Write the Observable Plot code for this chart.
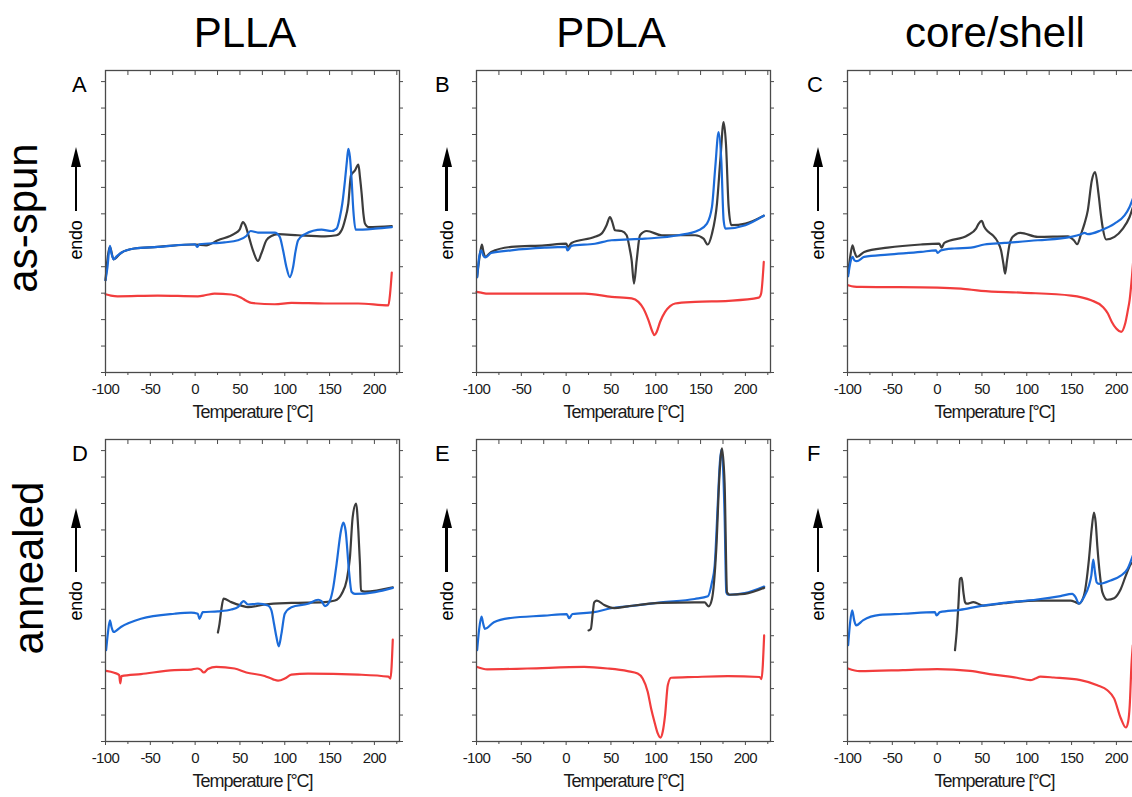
<!DOCTYPE html>
<html>
<head>
<meta charset="utf-8">
<script src="https://cdn.jsdelivr.net/npm/d3@7"></script>
<script src="https://cdn.jsdelivr.net/npm/@observablehq/plot@0.6"></script>
<style>
  html, body { margin: 0; padding: 0; background: #fff; }
  #page { position: relative; width: 1132px; height: 797px; overflow: hidden; background: #fff;
          font-family: "Liberation Sans", Arial, sans-serif; color: #000; }
  .panel { position: absolute; }
  .panel svg { max-width: none !important; }
  .panel svg text { letter-spacing: -0.6px; }
  .panel svg text.xlab { letter-spacing: -1px; }
  .title { position: absolute; font-size: 42px; line-height: 42px; white-space: nowrap; transform: translateX(-50%); }
  .rowtitle { position: absolute; font-size: 42px; line-height: 42px; white-space: nowrap;
              transform: translate(-50%, -50%) rotate(-90deg); }
  .letter { position: absolute; font-size: 22px; line-height: 22px; white-space: nowrap; }
  .endo { position: absolute; font-size: 18px; line-height: 18px; white-space: nowrap; letter-spacing: -0.3px;
          transform: translate(-50%, -50%) rotate(-90deg); }
  .arrow { position: absolute; width: 0; }
  .arrow::before { content: ""; position: absolute; left: -5px; top: 0; width: 0; height: 0;
                   border-left: 5px solid transparent; border-right: 5px solid transparent; border-bottom: 20px solid #000; }
  .arrow::after { content: ""; position: absolute; left: -1.25px; top: 18px; bottom: 0; width: 2.5px; background: #000; }
</style>
</head>
<body>
<div id="page"></div>
<script>
// ---------------- data: [temperature °C, signal (arb. units)] ----------------
const A_blue = [[-100,3.49],[-97.8,3.99],[-95.1,4.79],[-93.3,4.50],[-91.0,4.28],[-87.3,4.40],[-82.8,4.52],[-67.9,4.69],[-41.8,4.75],[0,4.85],[2.2,4.75],[4.8,4.85],[32.8,4.92],[47.7,5.00],[57.1,5.16],[61.9,5.35],[70.1,5.29],[88.8,5.29],[94.4,5.13],[98.1,4.62],[101.8,3.99],[105.6,3.61],[109.3,3.99],[111.9,4.56],[114.9,5.00],[122.4,5.23],[141.0,5.40],[152.2,5.35],[157.8,5.44],[161.5,5.88],[164.2,6.39],[167.2,7.27],[169.4,8.02],[170.9,8.46],[172.7,8.15],[174.6,7.27],[176.5,6.13],[179.1,5.40],[200.7,5.44],[219.4,5.50]];
const A_black = [[-100,3.49],[-95.1,4.75],[-91.0,4.28],[-82.8,4.52],[-67.9,4.69],[-41.8,4.75],[0,4.84],[12.3,4.81],[25.4,5.00],[44.0,5.25],[49.6,5.40],[53.3,5.69],[56.0,5.57],[59.0,5.25],[64.5,4.62],[70.1,4.22],[73.9,4.50],[79.5,5.00],[85.1,5.16],[92.5,5.23],[114.9,5.19],[144.8,5.15],[157.8,5.19],[163.4,5.38],[167.1,5.76],[170.9,6.39],[173.9,7.46],[178.3,7.64],[182.1,7.86],[183.9,7.39],[185.8,6.76],[187.7,6.01],[189.5,5.63],[193.3,5.50],[219.4,5.54]];
const A_red = [[-100,2.96],[-94.0,2.91],[-86.6,2.88],[-41.8,2.91],[3.0,2.88],[12.3,2.93],[21.6,2.98],[40.3,2.95],[51.5,2.83],[57.1,2.71],[62.7,2.63],[88.8,2.58],[107.4,2.63],[144.8,2.61],[182.1,2.61],[215.6,2.54],[217.5,2.98],[219.4,3.78]];

const B_blue = [[-99.3,3.61],[-97.0,4.37],[-94.8,4.62],[-92.5,4.43],[-90.3,4.35],[-83.6,4.52],[-61.2,4.62],[-23.9,4.72],[0,4.75],[1.5,4.62],[6.0,4.79],[32.1,4.87],[50.7,5.00],[88.0,5.06],[125.4,5.19],[147.7,5.38],[157.1,5.63],[162.7,6.26],[166.4,7.77],[170.1,9.09],[173.1,8.02],[175.7,5.76],[177.6,5.44],[200.0,5.57],[220.5,5.93]];
const B_black = [[-99.3,3.61],[-96.6,4.37],[-94.0,4.84],[-92.2,4.56],[-90.3,4.37],[-83.6,4.56],[-61.2,4.75],[-23.9,4.81],[0,4.87],[2.2,4.75],[6.0,4.90],[32.1,5.13],[39.5,5.25],[45.1,5.57],[48.9,5.88],[51.5,5.69],[54.5,5.38],[61.9,5.35],[67.5,5.19],[70.5,4.75],[73.1,4.24],[75.7,3.36],[78.7,4.24],[82.4,5.19],[89.9,5.35],[106.7,5.19],[144.0,5.19],[153.3,5.06],[157.8,4.84],[162.7,5.25],[168.3,6.39],[172.0,8.02],[175.7,9.47],[178.3,8.65],[181.3,6.26],[184.3,5.57],[200.0,5.63],[220.5,5.93]];
const B_red = [[-100,3.05],[-94.8,3.02],[-87.3,2.98],[-42.5,2.98],[20.9,2.98],[50.7,2.86],[73.1,2.80],[80.6,2.67],[86.2,2.42],[91.8,1.98],[96.3,1.54],[98.5,1.41],[101.1,1.54],[104.8,1.91],[110.4,2.29],[116.0,2.51],[121.6,2.61],[144.0,2.67],[181.3,2.71],[214.9,2.83],[217.5,2.98],[220.5,4.18]];

const C_black = [[-99.3,3.74],[-97.0,4.37],[-94.4,4.81],[-92.2,4.56],[-89.6,4.37],[-81.4,4.56],[-55.3,4.72],[-18.1,4.84],[2.4,4.87],[5.0,4.72],[8.0,4.90],[34.1,5.19],[43.4,5.44],[46.4,5.63],[49.7,5.73],[52.7,5.50],[56.4,5.34],[62.0,5.19],[67.6,4.94],[71.3,4.62],[73.9,4.12],[75.8,3.74],[78.0,4.24],[80.6,4.81],[84.3,5.13],[92.9,5.28],[112.3,5.13],[145.8,5.15],[152.5,5.00],[156.2,4.85],[160.7,5.25],[164.4,5.63],[168.1,6.13],[172.6,7.27],[176.3,7.58],[180.0,6.76],[183.0,5.88],[184.9,5.44],[188.6,5.03],[197.9,5.13],[207.2,5.44],[214.7,5.88],[219.1,6.32]];
const C_blue = [[-99.3,3.64],[-97.0,4.12],[-94.4,4.37],[-92.2,4.24],[-89.6,4.21],[-81.4,4.37],[-55.3,4.46],[-18.1,4.56],[-1.3,4.62],[0.5,4.52],[4.3,4.62],[19.2,4.69],[37.8,4.72],[52.7,4.84],[75.0,4.90],[112.3,5.00],[149.5,5.13],[160.7,5.23],[164.4,5.28],[168.1,5.23],[183.0,5.38],[197.9,5.63],[209.1,5.94],[214.7,6.26],[219.1,6.64]];
const C_red = [[-99.3,3.30],[-92.6,3.25],[-85.1,3.24],[0.5,3.21],[26.6,3.17],[49.0,3.09],[93.6,3.02],[149.5,2.91],[171.9,2.73],[184.9,2.48],[190.5,2.23],[194.9,1.91],[199.8,1.66],[205.4,1.54],[209.8,1.85],[212.8,2.36],[214.7,2.73],[217.3,3.61],[219.1,4.37]];

const D_blue = [[-99.3,3.45],[-97.4,4.08],[-95.1,4.58],[-93.3,4.33],[-91.0,4.14],[-82.8,4.33],[-60.5,4.64],[-23.1,4.83],[-4.5,4.87],[3.0,4.83],[4.8,4.64],[8.6,4.89],[25.4,4.92],[40.3,4.99],[47.7,5.08],[54.1,5.31],[58.9,5.18],[70.1,5.21],[81.3,5.14],[85.1,4.96],[88.0,4.45],[90.7,3.95],[93.3,3.60],[96.3,4.08],[100.0,4.83],[107.4,5.08],[126.0,5.21],[137.3,5.36],[141.0,5.31],[144.8,5.12],[150.4,5.33],[154.1,5.83],[157.8,6.71],[162.7,7.97],[165.3,8.28],[167.9,7.97],[171.6,6.46],[174.6,5.65],[178.3,5.58],[200.7,5.65],[220.5,5.81]];
const D_black = [[25.4,4.12],[27.2,4.45],[29.1,4.96],[31.7,5.40],[40.3,5.27],[51.5,5.14],[58.9,5.08],[77.6,5.18],[107.4,5.24],[144.8,5.27],[156.0,5.33],[163.4,5.58],[169.0,6.09],[172.7,6.96],[175.7,8.47],[179.5,9.00],[182.1,7.97],[183.9,6.71],[185.0,5.71],[189.5,5.67],[220.5,5.83]];
const D_red = [[-99.3,2.67],[-90.3,2.60],[-84.7,2.51],[-83.6,2.20],[-82.1,2.47],[-60.5,2.55],[-23.1,2.70],[-4.5,2.72],[2.2,2.76],[6.0,2.72],[9.7,2.61],[14.2,2.74],[23.5,2.82],[44.0,2.76],[57.1,2.61],[77.6,2.48],[87.0,2.35],[92.5,2.30],[100.0,2.38],[107.4,2.53],[126.0,2.57],[182.1,2.53],[215.6,2.45],[217.9,2.38],[220.5,3.85]];

const E_blue = [[-99.3,3.45],[-97.0,4.26],[-94.4,4.72],[-92.5,4.45],[-90.7,4.26],[-80.6,4.51],[-61.9,4.67],[-24.6,4.76],[0.7,4.82],[3.3,4.66],[7.1,4.82],[31.3,4.89],[50.0,5.04],[68.6,5.11],[106.0,5.26],[143.3,5.39],[158.2,5.49],[162.7,6.02],[165.7,6.64],[169.4,9.15],[171.2,10.40],[173.1,11.03],[175.0,10.40],[176.8,8.52],[178.7,5.64],[180.5,5.55],[199.2,5.61],[220.9,5.86]];
const E_black = [[25.0,4.20],[27.6,4.26],[29.8,4.89],[31.3,5.26],[34.3,5.33],[42.5,5.16],[53.7,5.04],[68.6,5.11],[106.0,5.24],[143.3,5.26],[154.5,5.26],[158.9,5.11],[162.7,5.39],[167.5,7.27],[171.2,10.15],[173.9,11.09],[176.8,9.77],[179.5,5.64],[182.4,5.55],[199.2,5.58],[220.9,5.81]];
const E_red = [[-99.3,2.82],[-88.1,2.73],[-43.3,2.76],[20.1,2.82],[46.3,2.76],[68.6,2.66],[79.8,2.57],[85.4,2.38],[91.0,1.88],[94.8,1.25],[98.5,0.75],[102.2,0.31],[105.2,0.15],[107.8,0.38],[110.4,1.00],[113.4,2.13],[117.1,2.41],[143.3,2.44],[180.5,2.47],[216.0,2.44],[217.9,2.36],[220.9,4.01]];

const F_blue = [[-99.3,3.64],[-97.0,4.52],[-94.8,4.96],[-92.5,4.58],[-90.3,4.39],[-82.8,4.58],[-64.1,4.79],[-38.0,4.83],[-2.5,4.89],[-0.6,4.77],[3.1,4.89],[25.5,4.98],[47.9,5.12],[74.1,5.24],[111.5,5.37],[137.6,5.50],[150.7,5.58],[154.4,5.46],[158.2,5.21],[163.8,5.46],[169.4,5.90],[172.0,6.27],[174.2,6.88],[176.1,6.40],[178.0,6.02],[180.6,5.96],[193.6,6.09],[204.9,6.27],[212.3,6.52],[218.3,7.03]];
const F_black = [[19.9,3.45],[21.8,4.14],[23.7,5.14],[25.5,6.15],[27.4,6.19],[29.3,5.65],[31.1,5.27],[33.0,5.21],[40.5,5.27],[51.7,5.14],[74.1,5.23],[111.5,5.33],[148.8,5.33],[154.4,5.27],[158.2,5.21],[163.8,5.52],[169.4,6.90],[172.4,8.03],[175.0,8.66],[176.9,8.28],[178.7,7.40],[181.7,6.27],[184.3,5.65],[189.9,5.36],[197.4,5.42],[204.9,5.77],[210.5,6.27],[216.1,6.71],[218.3,6.78]];
const F_red = [[-99.3,2.76],[-86.6,2.66],[-38.0,2.70],[0,2.74],[36.7,2.67],[62.9,2.53],[89.0,2.41],[104.0,2.32],[109.6,2.38],[115.2,2.45],[130.1,2.42],[160.0,2.32],[178.7,2.13],[189.9,1.94],[197.4,1.63],[204.9,0.88],[210.5,0.53],[213.1,0.75],[214.9,1.38],[216.8,2.89],[218.3,3.64]];

// ---------------- labels & ticks ----------------
const columnTitles = ["PLLA", "PDLA", "core/shell"];
const rowTitles = ["as-spun", "annealed"];
const panelLetters = ["A", "B", "C", "D", "E", "F"];
const xMajorTicks = [-100, -50, 0, 50, 100, 150, 200];
const xMinorTicks = [-75, -25, 25, 75, 125, 175, 225];
const yTicks = [0, 1, 2, 3, 4, 5, 6, 7, 8, 9, 10, 11];
const xLabel = "Temperature [°C]";
const endoLabel = "endo";

// ---------------- layout ----------------
const colors = { black: "#3c3c3c", blue: "#1b6bd9", red: "#f23d3d" };
const frameW = 294, frameH = 302;
const mL = 30, mR = 10, mT = 8, mB = 62;
const colLefts = [105, 475.5, 847];
const rowTops = [70, 438.5];

const panels = [
  { black: A_black, blue: A_blue, red: A_red, blackOnTop: false },
  { black: B_black, blue: B_blue, red: B_red, blackOnTop: false },
  { black: C_black, blue: C_blue, red: C_red, blackOnTop: false },
  { black: D_black, blue: D_blue, red: D_red, blackOnTop: false },
  { black: E_black, blue: E_blue, red: E_red, blackOnTop: true },
  { black: F_black, blue: F_blue, red: F_red, blackOnTop: false }
];

const page = document.getElementById("page");

function makePanel(p) {
  const order = p.blackOnTop
    ? [[p.red, colors.red], [p.blue, colors.blue], [p.black, colors.black]]
    : [[p.red, colors.red], [p.black, colors.black], [p.blue, colors.blue]];
  return Plot.plot({
    width: mL + frameW + mR,
    height: mT + frameH + mB,
    marginLeft: mL, marginRight: mR, marginTop: mT, marginBottom: mB,
    x: { domain: [-100, 228] },
    y: { domain: [0, 11.42] },
    style: { fontFamily: "'Liberation Sans', Arial, sans-serif", fontSize: "15px", color: "#1a1a1a", background: "transparent", overflow: "visible" },
    marks: [
      ...order.map(([series, c]) => Plot.line(series, { x: s => s[0], y: s => s[1], stroke: c, strokeWidth: 2.2, curve: "monotone-x" })),
      Plot.frame({ stroke: "#4a4a4a", strokeWidth: 1.3 }),
      Plot.axisX({ ticks: xMajorTicks, tickSize: 4, tickPadding: 7, tickFormat: d => String(d), label: null, stroke: "#4a4a4a" }),
      Plot.axisX({ ticks: xMinorTicks, tickSize: 3, tickFormat: () => "", label: null, stroke: "#4a4a4a" }),
      Plot.axisX({ anchor: "top", ticks: [...xMajorTicks, ...xMinorTicks], tickSize: -4, tickFormat: () => "", label: null, stroke: "#4a4a4a" }),
      Plot.axisY({ ticks: yTicks, tickSize: 4, tickFormat: () => "", label: null, stroke: "#4a4a4a" }),
      Plot.axisY({ anchor: "right", ticks: yTicks, tickSize: 3, tickFormat: () => "", label: null, stroke: "#4a4a4a" }),
      Plot.text([xLabel], { text: d => d, frameAnchor: "bottom", dy: 45, fontSize: 18 })
    ]
  });
}

panels.forEach((p, i) => {
  const col = i % 3, row = Math.floor(i / 3);
  const left = colLefts[col], top = rowTops[row];
  const wrap = document.createElement("div");
  wrap.className = "panel";
  wrap.style.left = (left - mL) + "px";
  wrap.style.top = (top - mT) + "px";
  wrap.style.width = (mL + frameW + mR) + "px";
  wrap.style.height = (mT + frameH + mB) + "px";
  const svg = makePanel(p);
  svg.querySelectorAll("text").forEach(t => { if (t.textContent === xLabel) t.classList.add("xlab"); });
  wrap.appendChild(svg);
  page.appendChild(wrap);

  // panel letter
  const L = document.createElement("div");
  L.className = "letter";
  L.textContent = panelLetters[i];
  const letterX = [72, 435, 807][col];
  L.style.left = letterX + "px";
  L.style.top = (top + 23 - 18.6) + "px";
  page.appendChild(L);

  // endo arrow + label
  const ax = left - 29;
  const tip = top + (row === 0 ? 77 : 69.5);
  const arrow = document.createElement("div");
  arrow.className = "arrow";
  arrow.style.left = ax + "px";
  arrow.style.top = tip + "px";
  arrow.style.height = "64px";
  page.appendChild(arrow);
  const endo = document.createElement("div");
  endo.className = "endo";
  endo.textContent = endoLabel;
  endo.style.left = ax + "px";
  endo.style.top = (tip + 93) + "px";
  page.appendChild(endo);
});

// column titles
const titleCenters = [245, 611, 995];
columnTitles.forEach((t, i) => {
  const d = document.createElement("div");
  d.className = "title";
  d.textContent = t;
  d.style.left = titleCenters[i] + "px";
  d.style.top = (47 - 35.5) + "px";
  page.appendChild(d);
});

// row titles
const rowCenters = [[22.5, 217.5], [28.5, 568]];
rowTitles.forEach((t, i) => {
  const d = document.createElement("div");
  d.className = "rowtitle";
  d.textContent = t;
  d.style.left = rowCenters[i][0] + "px";
  d.style.top = rowCenters[i][1] + "px";
  page.appendChild(d);
});
</script>
</body>
</html>
